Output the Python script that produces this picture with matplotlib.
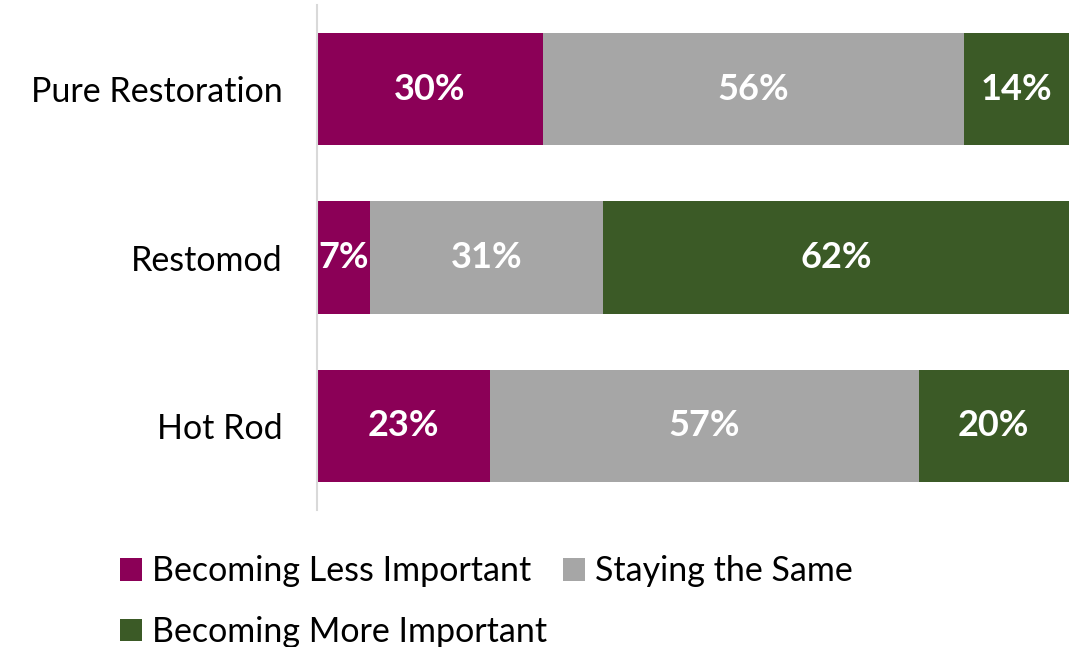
import matplotlib.pyplot as plt
from matplotlib.patches import Patch

plt.rcParams['font.family'] = ['Lato', 'DejaVu Sans']

# Share of respondents per build style
categories = ['Pure Restoration', 'Restomod', 'Hot Rod']
less_important = [30, 7, 23]
same = [56, 31, 57]
more_important = [14, 62, 20]

series_names = ['Becoming Less Important', 'Staying the Same', 'Becoming More Important']
colors = ['#8B0057', '#A6A6A6', '#3B5A26']

fig = plt.figure(figsize=(10.81, 6.47), dpi=100)
ax = fig.add_axes([0.2933, 0.2117, 0.6956, 0.7806])

y = list(range(len(categories)))
left = [0] * len(categories)
for vals, color in zip([less_important, same, more_important], colors):
    bars = ax.barh(y, vals, left=left, height=0.667, color=color, edgecolor='none')
    for bar, v in zip(bars, vals):
        ax.text(bar.get_x() + bar.get_width() / 2, bar.get_y() + bar.get_height() / 2,
                f'{v}%', ha='center', va='center', color='white',
                fontsize=26, fontweight='bold')
    left = [l + v for l, v in zip(left, vals)]

ax.set_xlim(0, 100)
ax.set_ylim(2.5, -0.5)
ax.set_yticks(y)
ax.set_yticklabels(categories, fontsize=24.5)
ax.tick_params(axis='y', length=0, pad=25)
ax.set_xticks([])
for side in ['top', 'right', 'bottom']:
    ax.spines[side].set_visible(False)
ax.spines['left'].set_color('#D9D9D9')
ax.spines['left'].set_linewidth(1.5)

# ncol=2 fills columns first, so order handles to get Less/Same on the first row
order = [0, 2, 1]
handles = [Patch(facecolor=colors[i], edgecolor='none') for i in order]
labels = [series_names[i] for i in order]
fig.legend(handles, labels, ncol=2, loc='upper left', bbox_to_anchor=(0.111, 0.142),
           frameon=False, fontsize=24.5, handlelength=0.65, handleheight=0.65,
           handletextpad=0.3, columnspacing=0.45, labelspacing=0.85, borderpad=0,
           borderaxespad=0)

fig.savefig('out.png', dpi=100, facecolor='white')
